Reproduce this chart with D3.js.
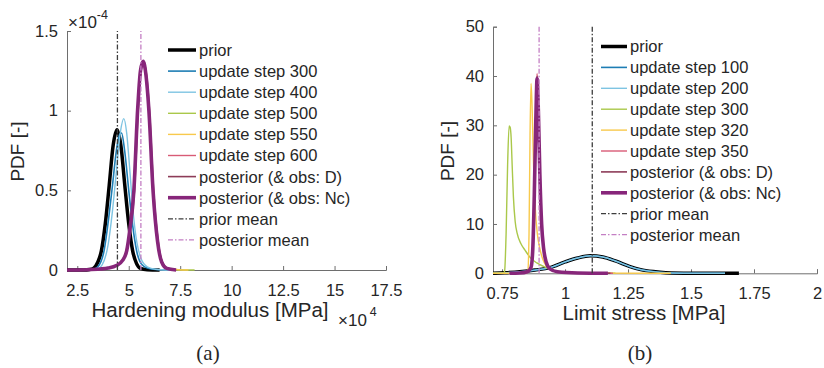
<!DOCTYPE html>
<html>
<head>
<meta charset="utf-8">
<script src="https://cdn.jsdelivr.net/npm/d3@7"></script>
<style>
  body { margin: 0; background: #fff; }
  svg { display: block; }
  text { font-family: "Liberation Sans", Arial, sans-serif; fill: #262626; }
</style>
</head>
<body>
<div id="fig"></div>
<script>
// ---- panel (a): hardening modulus (x in 1e4 MPa, pdf in 1e-4) ----
const hmPrior   = [[2.0,0],[2.8,0],[3.1,0.003],[3.3,0.012],[3.5,0.05],[3.67,0.12],[3.86,0.29],[4.05,0.53],[4.24,0.78],[4.43,0.88],[4.62,0.78],[4.81,0.53],[5.0,0.29],[5.19,0.12],[5.38,0.04],[5.57,0.01],[5.9,0.002],[6.5,0]]
const hmStep300 = [[2.0,0],[3.0,0],[3.3,0.005],[3.5,0.02],[3.8,0.12],[4.0,0.3],[4.2,0.52],[4.4,0.75],[4.55,0.85],[4.65,0.86],[4.8,0.75],[5.0,0.5],[5.2,0.27],[5.4,0.11],[5.6,0.04],[5.9,0.012],[6.3,0.003],[7.2,0]]
const hmStep400 = [[2.0,0],[3.2,0],[3.5,0.008],[3.7,0.03],[4.0,0.16],[4.2,0.36],[4.4,0.62],[4.6,0.87],[4.76,0.95],[4.9,0.86],[5.05,0.63],[5.2,0.38],[5.4,0.17],[5.6,0.07],[5.9,0.02],[6.3,0.005],[7.0,0]]
const hmStep500 = [[2.0,0],[3.5,0.004],[4.4,0.03],[4.8,0.09],[5.05,0.26],[5.25,0.52],[5.43,1.0],[5.57,1.24],[5.7,1.3],[5.84,1.22],[5.98,1.0],[6.18,0.5],[6.4,0.19],[6.6,0.06],[6.9,0.012],[7.4,0.002],[8.2,0]]
const hmStep550 = [[2.0,0],[3.5,0.004],[4.4,0.03],[4.8,0.09],[5.05,0.25],[5.25,0.51],[5.43,1.0],[5.57,1.25],[5.7,1.31],[5.84,1.22],[5.98,1.0],[6.18,0.5],[6.4,0.18],[6.6,0.055],[6.9,0.01],[7.4,0.002],[7.9,0]]
const hmStep600 = [[2.0,0],[3.5,0.004],[4.4,0.03],[4.8,0.085],[5.05,0.25],[5.25,0.5],[5.43,1.0],[5.57,1.25],[5.7,1.31],[5.84,1.22],[5.98,1.0],[6.18,0.5],[6.4,0.18],[6.6,0.05],[6.85,0.01],[7.3,0]]
const hmPostD   = [[2.0,0],[3.5,0.004],[4.4,0.03],[4.8,0.08],[5.08,0.25],[5.28,0.5],[5.46,1.0],[5.6,1.25],[5.73,1.31],[5.87,1.22],[6.01,1.0],[6.21,0.5],[6.43,0.18],[6.63,0.05],[6.88,0.01],[7.3,0]]
const hmPostNc  = [[2.0,0],[3.0,0.002],[3.6,0.006],[4.0,0.012],[4.4,0.028],[4.7,0.06],[4.9,0.12],[5.05,0.25],[5.25,0.5],[5.43,1.0],[5.57,1.25],[5.7,1.31],[5.84,1.22],[5.98,1.0],[6.18,0.5],[6.4,0.18],[6.6,0.05],[6.85,0.01],[7.3,0]]
const hmMeans   = [4.45, 5.59]   // prior mean, posterior mean
const hmNames   = ["prior","update step 300","update step 400","update step 500","update step 550","update step 600","posterior (& obs: D)","posterior (& obs: Nc)"]
const hmXTicks  = ["2.5","5","7.5","10","12.5","15","17.5"]
const hmYTicks  = ["0","0.5","1","1.5"]

// ---- panel (b): limit stress (MPa) ----
const lsPrior   = [[0.714,0],[0.76,0.1],[0.82,0.3],[0.88,0.65],[0.94,1.15],[1.0,2.3],[1.05,3.1],[1.1,3.55],[1.15,3.3],[1.2,2.5],[1.258,1.35],[1.3,0.75],[1.35,0.35],[1.4,0.12],[1.5,0.02],[1.6,0.003],[1.69,0]]
const lsStep100 = [[0.714,0],[0.76,0.1],[0.82,0.3],[0.88,0.65],[0.94,1.15],[1.0,2.3],[1.05,3.1],[1.1,3.55],[1.15,3.3],[1.2,2.5],[1.258,1.35],[1.3,0.75],[1.35,0.35],[1.4,0.12],[1.5,0.02],[1.635,0]]
const lsStep200 = [[0.714,0],[0.76,0.1],[0.82,0.3],[0.88,0.65],[0.94,1.15],[1.0,2.3],[1.05,3.1],[1.1,3.55],[1.15,3.3],[1.2,2.5],[1.258,1.35],[1.3,0.75],[1.35,0.35],[1.4,0.12],[1.5,0.02],[1.635,0]]
const lsStep300 = [[0.714,0],[0.755,0],[0.76,0.4],[0.766,8],[0.772,22],[0.778,29.9],[0.782,29.6],[0.786,27.5],[0.79,22],[0.795,15.5],[0.802,10.5],[0.81,8.1],[0.825,6],[0.841,4.7],[0.865,3],[0.888,2.1],[0.927,1.1],[0.97,0.35],[1.05,0.06],[1.2,0]]
const lsStep320 = [[0.714,0],[0.84,0],[0.852,0.4],[0.857,8],[0.861,28],[0.865,38.5],[0.869,34],[0.875,22],[0.882,13],[0.89,8],[0.9,5],[0.912,2.8],[0.925,1.5],[0.95,0.6],[1.0,0.15],[1.1,0.03],[1.42,0]]
const lsStep350 = [[0.78,0],[0.82,0.05],[0.85,0.3],[0.865,1.2],[0.872,5],[0.878,16],[0.884,31],[0.889,40.5],[0.894,33.5],[0.9,20.5],[0.907,10],[0.915,5],[0.925,2.3],[0.94,0.9],[0.97,0.3],[1.05,0.06],[1.19,0]]
const lsPostD   = [[0.78,0],[0.82,0.05],[0.85,0.3],[0.865,1.2],[0.872,5],[0.878,16],[0.884,31],[0.889,40],[0.894,33.5],[0.9,20.5],[0.907,10],[0.915,5],[0.925,2.3],[0.94,0.9],[0.97,0.3],[1.05,0.06],[1.18,0]]
const lsPostNc  = [[0.78,0],[0.82,0.05],[0.85,0.3],[0.865,1.2],[0.872,5],[0.878,16],[0.884,31],[0.889,39.5],[0.894,33],[0.9,20],[0.907,10],[0.915,5],[0.925,2.3],[0.94,0.9],[0.97,0.3],[1.05,0.06],[1.17,0]]
const lsMeans   = [1.108, 0.897]
const lsNames   = ["prior","update step 100","update step 200","update step 300","update step 320","update step 350","posterior (& obs: D)","posterior (& obs: Nc)"]
const lsXTicks  = ["0.75","1","1.25","1.5","1.75","2"]
const lsYTicks  = ["0","10","20","30","40","50"]

const meanNames = ["prior mean","posterior mean"]

// styles shared by both panels
const colors  = ["#000000","#1d7db4","#7ec4e2","#aac84a","#f8c94c","#d85b76","#8d3c58","#87267a"]
const widths  = [3.5, 1.6, 1.4, 1.4, 1.4, 1.4, 1.6, 3.6]
const meanColors = ["#3d3d3d","#c47fc4"]

const W = 824, H = 368
const svg = d3.select("#fig").append("svg").attr("width", W).attr("height", H)

function panel(o){
  const g = svg.append("g")
  const x = d3.scaleLinear().domain(o.xDomain).range([o.left, o.right])
  const y = d3.scaleLinear().domain(o.yDomain).range([o.bottom, o.top])

  const line = d3.line().curve(d3.curveMonotoneX).x(d => x(d[0])).y(d => y(d[1]))

  // axes (MATLAB style: ticks inward, no box)
  const xa = g.append("g").attr("transform", `translate(0,${o.bottom})`)
    .call(d3.axisBottom(x).tickValues(o.xTicks.map(Number)).tickFormat((d,i) => o.xTicks[i]).tickSize(-4).tickPadding(14))
  const ya = g.append("g").attr("transform", `translate(${o.left},0)`)
    .call(d3.axisLeft(y).tickValues(o.yTicks.map(Number)).tickFormat((d,i) => o.yTicks[i]).tickSize(-4).tickPadding(9))
  for (const a of [xa, ya]) {
    a.attr("font-size", null).attr("font-family", null)
    a.select(".domain").attr("stroke", "#6e6e6e").attr("stroke-width", 1)
    a.selectAll(".tick line").attr("stroke", "#6e6e6e")
    a.selectAll(".tick text").attr("font-size", 16.5).attr("fill", "#262626")
  }

  // pdf curves
  o.curves.forEach((c, i) => {
    g.append("path").datum(c)
      .attr("fill", "none").attr("stroke", colors[i]).attr("stroke-width", widths[i])
      .attr("stroke-linejoin", "round").attr("d", line)
  })

  // mean lines
  o.means.forEach((m, i) => {
    g.append("line").attr("x1", x(m)).attr("x2", x(m)).attr("y1", y(o.yDomain[0])).attr("y2", y(o.yDomain[1]))
      .attr("stroke", meanColors[i]).attr("stroke-width", 1.3).attr("stroke-dasharray", "5,2,1.5,2")
  })

  // legend
  const names = o.names.concat(meanNames)
  names.forEach((n, i) => {
    const ly = o.legY + i * o.legDy
    const isMean = i >= o.names.length
    g.append("line").attr("x1", o.legX0).attr("x2", o.legX1).attr("y1", ly).attr("y2", ly)
      .attr("stroke", isMean ? meanColors[i - o.names.length] : colors[i])
      .attr("stroke-width", isMean ? 1.3 : widths[i])
      .attr("stroke-dasharray", isMean ? "5,2,1.5,2" : null)
    g.append("text").attr("x", o.legX1 + 3).attr("y", ly).attr("dy", "0.36em")
      .attr("font-size", 16.5).text(n)
  })

  // axis labels
  g.append("text").attr("x", o.xLabelX).attr("y", o.bottom + 47).attr("text-anchor", "middle")
    .attr("font-size", 20.5).text(o.xLabel)
  g.append("text").attr("transform", `translate(${o.yLabelX},${(o.top + o.bottom) / 2 + 1}) rotate(-90)`)
    .attr("text-anchor", "middle").attr("font-size", 19).text("PDF [-]")

  // caption
  g.append("text").attr("x", o.capX).attr("y", 360).attr("text-anchor", "middle")
    .style("font-family", '"Liberation Serif", "DejaVu Serif", serif').attr("font-size", 21).text(o.caption)
  return g
}

const ga = panel({
  curves: [hmPrior, hmStep300, hmStep400, hmStep500, hmStep550, hmStep600, hmPostD, hmPostNc],
  names: hmNames, means: hmMeans, xTicks: hmXTicks, yTicks: hmYTicks,
  xDomain: [2.0, 17.5], yDomain: [0, 1.5],
  left: 67, right: 386, top: 31, bottom: 270,
  legX0: 168, legX1: 196, legY: 50, legDy: 21.1,
  xLabel: "Hardening modulus [MPa]", xLabelX: 210, yLabelX: 24, capX: 208, caption: "(a)"
})
// exponent labels
const e1 = ga.append("text").attr("x", 68).attr("y", 28).attr("font-size", 17).text("\u00d710")
e1.append("tspan").attr("dy", -9).attr("font-size", 12.5).text("-4")
const e2 = ga.append("text").attr("x", 338).attr("y", 326).attr("font-size", 17).text("\u00d710")
e2.append("tspan").attr("dx", 3).attr("dy", -10).attr("font-size", 12.5).text("4")

panel({
  curves: [lsPrior, lsStep100, lsStep200, lsStep300, lsStep320, lsStep350, lsPostD, lsPostNc],
  names: lsNames, means: lsMeans, xTicks: lsXTicks, yTicks: lsYTicks,
  xDomain: [0.714, 2], yDomain: [0, 50],
  left: 493, right: 817, top: 26.7, bottom: 273.3,
  legX0: 601, legX1: 627, legY: 46.5, legDy: 20.9,
  xLabel: "Limit stress [MPa]", xLabelX: 644, yLabelX: 454, capX: 640, caption: "(b)"
})
</script>
</body>
</html>
